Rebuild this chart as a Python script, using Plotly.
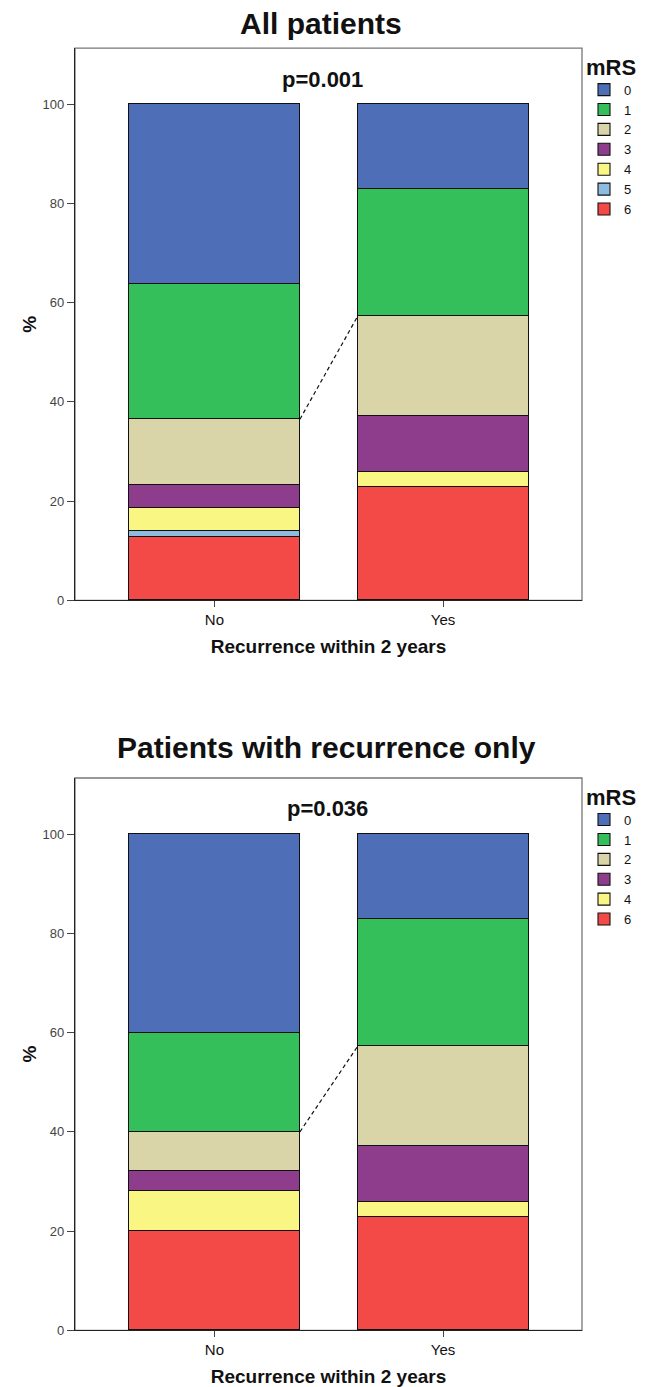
import plotly.graph_objects as go

# ---- data ----
categories = ["No", "Yes"]
cat_pos = [0, 1]

levels_all = ["0", "1", "2", "3", "4", "5", "6"]
all_no = [36.3, 27.2, 13.3, 4.6, 4.6, 1.3, 12.7]
all_yes = [17.1, 25.7, 20.0, 11.4, 2.9, 0.0, 22.9]

levels_rec = ["0", "1", "2", "3", "4", "6"]
rec_no = [40.0, 20.0, 8.0, 4.0, 8.0, 20.0]
rec_yes = [17.1, 25.7, 20.0, 11.4, 2.9, 22.9]

y_ticks = [0, 20, 40, 60, 80, 100]
p_values = ["p=0.001", "p=0.036"]
panel_titles = ["All patients", "Patients with recurrence only"]

colors = {
    "0": "#4E6EB8",
    "1": "#34BF5A",
    "2": "#DAD5A8",
    "3": "#8D3D8C",
    "4": "#FAF684",
    "5": "#8DBCE0",
    "6": "#F44A47",
}

FONT = "Liberation Sans"
BAR_W = 0.748
X_RANGE = [-0.610, 1.608]
Y_RANGE = [0, 111.3]

W = 646.0
H = 1387.0
OFF = 8.0  # page offset of the plot div
VS = 1395.0 / 1387.0  # vertical compensation


def px(x):
    return (x - OFF) / W


def py(y):
    return 1 - (y * VS - OFF) / H


fig = go.Figure()


def add_panel(levels, no_vals, yes_vals, xa, ya, legend_name):
    for lvl, a, b in reversed(list(zip(levels, no_vals, yes_vals))):
        fig.add_trace(go.Bar(
            x=cat_pos, y=[a, b], name=lvl, width=BAR_W,
            marker=dict(color=colors[lvl], line=dict(color="#111111", width=1.1)),
            xaxis=xa, yaxis=ya, legend=legend_name,
        ))
    idx2 = levels.index("2")
    cum_no = sum(no_vals[idx2:])
    cum_yes = sum(yes_vals[idx2:])
    fig.add_trace(go.Scatter(
        x=[cat_pos[0] + BAR_W / 2, cat_pos[1] - BAR_W / 2],
        y=[cum_no, cum_yes], mode="lines",
        line=dict(color="#111111", width=1.2, dash="4px,3px"),
        showlegend=False, hoverinfo="skip", xaxis=xa, yaxis=ya,
    ))


add_panel(levels_all, all_no, all_yes, "x", "y", "legend")
add_panel(levels_rec, rec_no, rec_yes, "x2", "y2", "legend2")

xdom = [px(75), px(582)]
ydom1 = [py(600.3), py(48)]
ydom2 = [py(1330.3), py(778)]

xaxis_common = dict(
    range=X_RANGE, tickvals=cat_pos, ticktext=categories,
    showline=True, linecolor="#222222", linewidth=1.3,
    ticks="outside", ticklen=6, tickcolor="#444444", tickwidth=1.3,
    tickfont=dict(family=FONT, size=15, color="#111111"),
    showgrid=False, zeroline=False, domain=xdom,
    title=dict(text="<b>Recurrence within 2 years</b>",
               font=dict(family=FONT, size=19, color="#111111"), standoff=12),
)
yaxis_common = dict(
    range=Y_RANGE, tickvals=y_ticks,
    showline=True, linecolor="#222222", linewidth=1.3,
    ticks="outside", ticklen=7, tickcolor="#444444", tickwidth=1.3,
    tickfont=dict(family=FONT, size=13, color="#444444"),
    showgrid=False, zeroline=False,
    title=dict(text="<b>%</b>", font=dict(family=FONT, size=19, color="#111111"), standoff=0),
)

legend_common = dict(
    xanchor="left", yanchor="top",
    traceorder="reversed", font=dict(family=FONT, size=13, color="#111111"),
    itemwidth=30, bgcolor="rgba(0,0,0,0)", borderwidth=0, tracegroupgap=0,
    title=dict(text="<b>mRS</b>", font=dict(family=FONT, size=22, color="#111111")),
)

fig.update_layout(
    width=646, height=1387,
    margin=dict(l=0, r=0, t=0, b=0),
    paper_bgcolor="white", plot_bgcolor="white",
    barmode="stack", bargap=0,
    font=dict(family=FONT, color="#111111"),
    xaxis=dict(**xaxis_common, anchor="y"),
    yaxis=dict(**yaxis_common, domain=ydom1, anchor="x"),
    xaxis2=dict(**xaxis_common, anchor="y2"),
    yaxis2=dict(**yaxis_common, domain=ydom2, anchor="x2"),
    legend=dict(**legend_common, x=px(584), y=py(46)),
    legend2=dict(**legend_common, x=px(584), y=py(776)),
    showlegend=True,
)

# plot frame (gray top/right)
for xr, yr in (("x domain", "y domain"), ("x2 domain", "y2 domain")):
    fig.add_shape(type="rect", xref=xr, yref=yr, x0=0, x1=1, y0=0, y1=1,
                  line=dict(color="#777777", width=1.3), layer="below")

# panel titles
fig.add_annotation(text="<b>" + panel_titles[0] + "</b>", xref="paper", yref="paper",
                   x=px(321), y=py(23), xanchor="center", yanchor="middle", showarrow=False,
                   font=dict(family=FONT, size=30, color="#111111"))
fig.add_annotation(text="<b>" + panel_titles[1] + "</b>", xref="paper", yref="paper",
                   x=px(326), y=py(747), xanchor="center", yanchor="middle", showarrow=False,
                   font=dict(family=FONT, size=30, color="#111111"))
# p values
fig.add_annotation(text="<b>" + p_values[0] + "</b>", xref="paper", yref="paper",
                   x=px(322), y=py(79), xanchor="center", yanchor="middle", showarrow=False,
                   font=dict(family=FONT, size=22, color="#111111"))
fig.add_annotation(text="<b>" + p_values[1] + "</b>", xref="paper", yref="paper",
                   x=px(327), y=py(808), xanchor="center", yanchor="middle", showarrow=False,
                   font=dict(family=FONT, size=22, color="#111111"))

fig.write_html("out.html")
